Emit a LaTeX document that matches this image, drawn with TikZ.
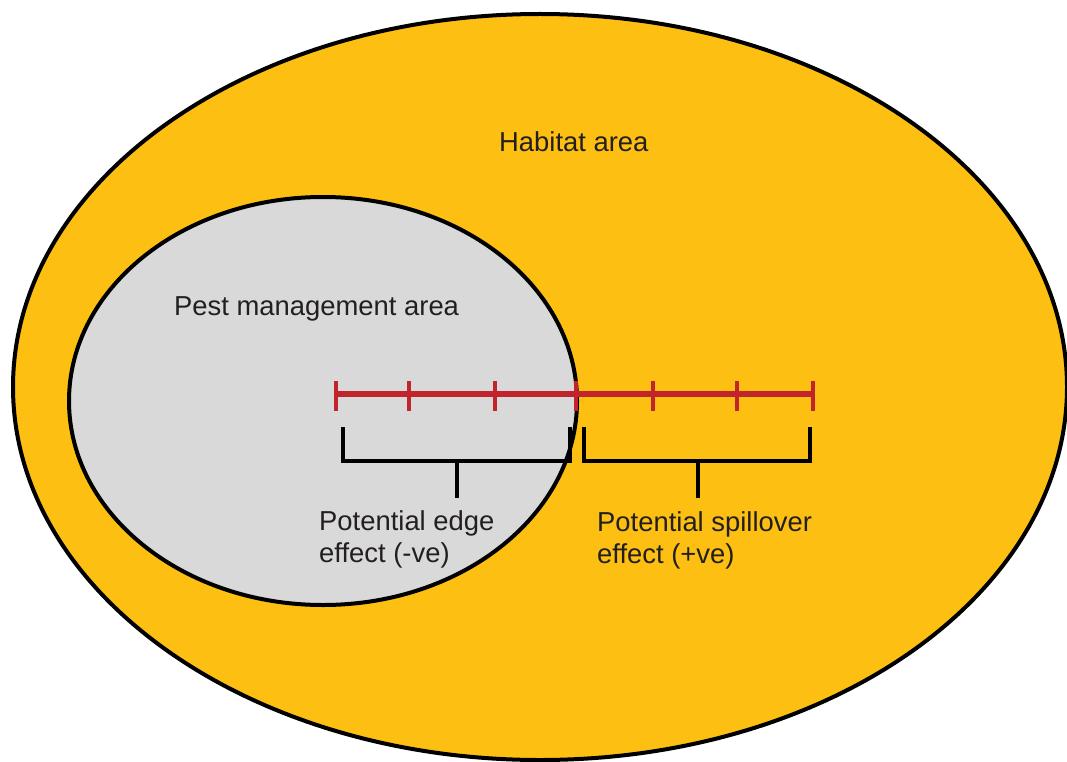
\documentclass[tikz,border=0pt]{standalone}
\usepackage{fontspec}
\setmainfont{Liberation Sans}
\definecolor{habitat}{RGB}{252,191,18}
\definecolor{pest}{RGB}{217,217,217}
\definecolor{scalered}{RGB}{193,36,43}
\definecolor{ink}{RGB}{35,31,32}
\begin{document}
\begin{tikzpicture}[x=1pt,y=-1pt,
    lbl/.style={text=ink,font=\fontsize{27.4}{31.5}\selectfont,inner sep=0pt,anchor=base west,align=left},
    bracket/.style={line width=4.5pt}]
  \useasboundingbox (0,0) rectangle (1067,762);
  \draw[fill=habitat,line width=4pt] (540,387) ellipse [x radius=527,y radius=373];
  \draw[fill=pest,line width=4pt] (323,401) ellipse [x radius=254,y radius=204];
  \node[lbl] (habitat) at (499,152) {Habitat area};
  \node[lbl] (pest) at (174,315) {Pest management area};
  % distance scale
  \coordinate (s0) at (336,394);
  \coordinate (s6) at (813,394);
  \draw[scalered,line width=5.5pt] (s0) -- (s6);
  \foreach \x in {336,409,495,576,653,737,813}
    \draw[scalered,line width=4pt] (\x,381) -- (\x,411);
  % brackets
  \draw[bracket] (343,427) |- (570,461) -- (570,427);
  \draw[bracket] (457,461) -- (457,498);
  \draw[bracket] (584,427) |- (810,461) -- (810,427);
  \draw[bracket] (698,461) -- (698,498);
  \node[lbl] (edge) at (319,562) {Potential edge\\effect (-ve)};
  \node[lbl] (spill) at (597,563) {Potential spillover\\effect (+ve)};
\end{tikzpicture}
\end{document}
